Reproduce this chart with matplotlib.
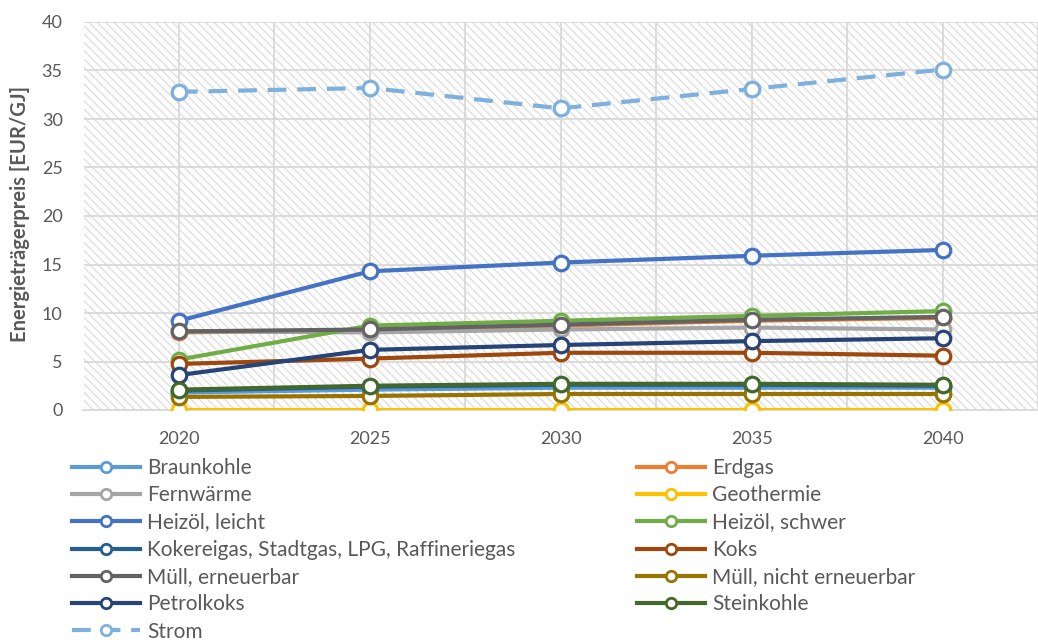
import numpy as np
import matplotlib
matplotlib.use('Agg')
import matplotlib.pyplot as plt
from matplotlib.lines import Line2D
from matplotlib.patches import Rectangle

plt.rcParams['font.family'] = ['Lato', 'DejaVu Sans']
plt.rcParams['hatch.linewidth'] = 0.8

years = [2020, 2025, 2030, 2035, 2040]

# series in Excel order (later ones drawn on top)
names = ["Braunkohle", "Erdgas", "Fernwärme", "Geothermie", "Heizöl, leicht",
         "Heizöl, schwer", "Kokereigas, Stadtgas, LPG, Raffineriegas", "Koks",
         "Müll, erneuerbar", "Müll, nicht erneuerbar", "Petrolkoks",
         "Steinkohle", "Strom"]

braunkohle = [1.8, 2.1, 2.3, 2.3, 2.3]
erdgas = [8.0, 8.2, 8.7, 9.2, 9.5]
fernwaerme = [8.1, 8.0, 8.3, 8.5, 8.3]
geothermie = [0.0, 0.0, 0.0, 0.0, 0.0]
heizoel_leicht = [9.2, 14.3, 15.2, 15.9, 16.5]
heizoel_schwer = [5.2, 8.7, 9.2, 9.7, 10.2]
kokereigas = [2.0, 2.4, 2.6, 2.6, 2.5]
koks = [4.75, 5.3, 5.9, 5.9, 5.6]
muell_ern = [8.1, 8.3, 8.8, 9.3, 9.6]
muell_nicht = [1.35, 1.45, 1.65, 1.65, 1.65]
petrolkoks = [3.6, 6.2, 6.7, 7.1, 7.4]
steinkohle = [2.1, 2.5, 2.7, 2.7, 2.6]
strom = [32.8, 33.2, 31.1, 33.1, 35.1]

series = [braunkohle, erdgas, fernwaerme, geothermie, heizoel_leicht,
          heizoel_schwer, kokereigas, koks, muell_ern, muell_nicht,
          petrolkoks, steinkohle, strom]

colors = ["#5B9BD5", "#ED7D31", "#A5A5A5", "#FFC000", "#4472C4", "#70AD47",
          "#255E91", "#9E480E", "#636363", "#997300", "#264478", "#43682B",
          "#7EB0DE"]

fig = plt.figure(figsize=(10.38, 6.43), dpi=100)
W, H = 1038, 643
ax = fig.add_axes([83.5 / W, 1 - 410 / H, (1038 - 83.5) / W, (410 - 22) / H])

# hatched plot area
ax.add_patch(Rectangle((0, 0), 1, 1, transform=ax.transAxes, facecolor='white',
                       edgecolor='#d9d9d9', hatch='\\\\\\\\', linewidth=0, zorder=0))

handles = []
for name, vals, c in zip(names, series, colors):
    ls = (0, (4.5, 2.6)) if name == "Strom" else '-'
    ax.plot(years, vals, color=c, lw=3.0, ls=ls, marker='o', ms=10.5,
            mfc='white', mec=c, mew=2.3, zorder=3, solid_capstyle='round')
    handles.append(Line2D([], [], color=c, lw=3.0, ls=ls, marker='o', ms=7.5,
                          mfc='white', mec=c, mew=2.0))

ax.set_xlim(2017.5, 2042.23)
ax.set_ylim(0, 40)
ax.set_xticks(years)
ax.set_yticks(np.arange(0, 41, 5))
ax.set_xticks(np.arange(2017.5, 2043, 2.5), minor=True)
ax.grid(True, which='both', color='#d9d9d9', lw=1.3, zorder=1)
ax.tick_params(which='both', length=0)
ax.tick_params(axis='y', pad=15, labelsize=13, labelcolor='#595959')
ax.tick_params(axis='x', pad=15, labelsize=13, labelcolor='#595959')
for s in ['top', 'right', 'left']:
    ax.spines[s].set_visible(False)
ax.spines['bottom'].set_color('#d9d9d9')
ax.spines['bottom'].set_linewidth(1.3)
ax.set_axisbelow(True)

fig.text(20 / W, 1 - 214 / H, "Energieträgerpreis [EUR/GJ]", rotation=90,
         ha='center', va='center', fontsize=14.5, fontweight='bold', color='#595959')

# legend: two columns, row-major like Excel
col1 = list(range(0, 13, 2))
col2 = list(range(1, 13, 2))
kw = dict(frameon=False, fontsize=15, handlelength=3.27, handletextpad=0.34,
          labelspacing=0.35, borderpad=0, borderaxespad=0, loc='upper left',
          labelcolor='#595959')
leg1 = fig.legend([handles[i] for i in col1], [names[i] for i in col1],
                  bbox_to_anchor=(72 / W, 1 - 458 / H), **kw)
leg2 = fig.legend([handles[i] for i in col2], [names[i] for i in col2],
                  bbox_to_anchor=(637 / W, 1 - 458 / H), **kw)

fig.savefig('out.png', dpi=100)
